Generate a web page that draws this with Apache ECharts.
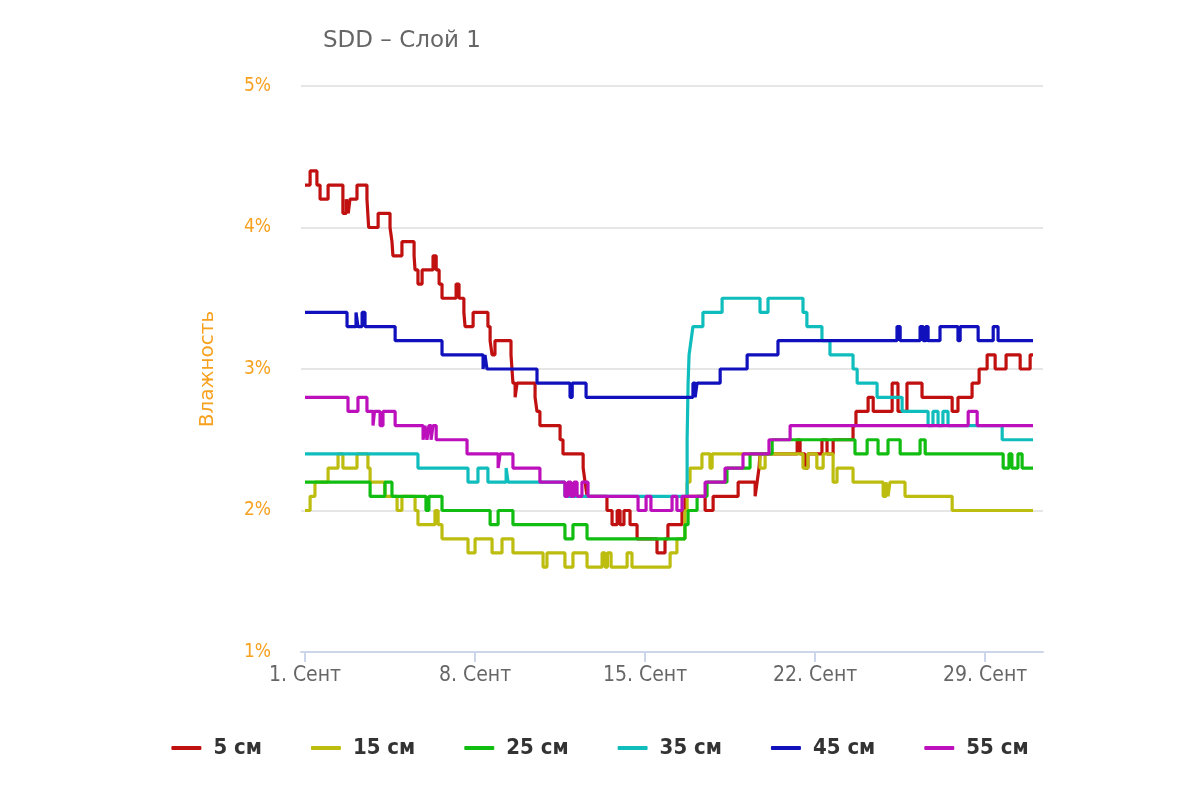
<!DOCTYPE html>
<html>
<head>
<meta charset="utf-8">
<title>SDD - Слой 1</title>
<script src="https://cdn.jsdelivr.net/npm/echarts@6/dist/echarts.min.js"></script>
<style>
  html, body { margin: 0; padding: 0; background: #fff; }
  #chart { width: 1200px; height: 800px; }
</style>
</head>
<body>
<div id="chart"></div>
<script>
// дни сентября (дробные) в моменты смены значения, и значения влажности, %
var days5 = [1.00, 1.21, 1.49, 1.62, 1.95, 2.56, 2.70, 2.78, 2.85, 3.14, 3.55, 3.62, 4.01, 4.50, 4.58, 4.62, 4.99, 5.49, 5.53, 5.65, 5.82, 6.27, 6.40, 6.52, 6.64, 7.22, 7.34, 7.54, 7.59, 7.92, 8.53, 8.62, 8.70, 8.82, 9.48, 9.52, 9.56, 9.65, 9.73, 10.47, 10.55, 10.67, 11.50, 11.62, 12.45, 12.53, 12.61, 13.43, 13.64, 13.85, 13.97, 14.13, 14.38, 14.67, 15.49, 15.82, 15.94, 16.52, 16.64, 17.47, 17.80, 18.83, 19.53, 19.61, 19.69, 19.73, 21.26, 21.38, 21.58, 21.70, 22.28, 22.49, 22.74, 23.56, 23.68, 24.18, 24.39, 25.17, 25.41, 25.78, 26.40, 27.64, 27.88, 28.46, 28.75, 29.08, 29.41, 29.86, 30.44, 30.85, 30.97];
var vals5 = [4.3, 4.4, 4.3, 4.2, 4.3, 4.1, 4.2, 4.1, 4.2, 4.3, 4.2, 4.0, 4.1, 4.0, 3.9, 3.8, 3.9, 3.8, 3.7, 3.6, 3.7, 3.8, 3.7, 3.6, 3.5, 3.6, 3.5, 3.4, 3.3, 3.4, 3.3, 3.2, 3.1, 3.2, 3.1, 3.0, 2.9, 2.8, 2.9, 2.8, 2.7, 2.6, 2.5, 2.4, 2.3, 2.2, 2.1, 2.0, 1.9, 2.0, 1.9, 2.0, 1.9, 1.8, 1.7, 1.8, 1.9, 2.0, 2.1, 2.0, 2.1, 2.2, 2.1, 2.2, 2.3, 2.4, 2.5, 2.4, 2.3, 2.4, 2.5, 2.4, 2.5, 2.6, 2.7, 2.8, 2.7, 2.9, 2.7, 2.9, 2.8, 2.7, 2.8, 2.9, 3.0, 3.1, 3.0, 3.1, 3.0, 3.1, 3.1];

var days15 = [1.00, 1.21, 1.41, 1.95, 2.36, 2.56, 3.14, 3.59, 3.68, 4.29, 4.79, 4.99, 5.53, 5.65, 6.35, 6.48, 6.64, 7.71, 8.00, 8.70, 9.11, 9.56, 10.80, 10.96, 11.70, 12.03, 12.61, 13.23, 13.35, 13.45, 13.60, 14.26, 14.46, 16.03, 16.31, 16.64, 16.73, 16.85, 17.34, 17.67, 17.76, 19.73, 19.94, 21.50, 21.70, 22.07, 22.33, 22.74, 22.90, 23.56, 24.80, 24.92, 25.00, 25.08, 25.70, 27.64, 30.97];
var vals15 = [2.0, 2.1, 2.2, 2.3, 2.4, 2.3, 2.4, 2.3, 2.2, 2.1, 2.0, 2.1, 2.0, 1.9, 2.0, 1.9, 1.8, 1.7, 1.8, 1.7, 1.8, 1.7, 1.6, 1.7, 1.6, 1.7, 1.6, 1.7, 1.6, 1.7, 1.6, 1.7, 1.6, 1.7, 1.8, 2.0, 2.2, 2.3, 2.4, 2.3, 2.4, 2.3, 2.4, 2.3, 2.4, 2.3, 2.4, 2.2, 2.3, 2.2, 2.1, 2.2, 2.1, 2.2, 2.1, 2.0, 2.0];

var days25 = [1.00, 3.68, 4.29, 4.58, 5.98, 6.10, 6.64, 8.62, 8.95, 9.56, 11.70, 12.03, 12.61, 16.64, 16.77, 17.14, 17.55, 18.37, 19.32, 20.23, 23.64, 24.14, 24.59, 25.00, 25.50, 26.32, 26.53, 29.74, 29.98, 30.10, 30.35, 30.52, 30.97];
var vals25 = [2.2, 2.1, 2.2, 2.1, 2.0, 2.1, 2.0, 1.9, 2.0, 1.9, 1.8, 1.9, 1.8, 1.9, 2.0, 2.1, 2.2, 2.3, 2.4, 2.5, 2.4, 2.5, 2.4, 2.5, 2.4, 2.5, 2.4, 2.3, 2.4, 2.3, 2.4, 2.3, 2.3];

var days35 = [1.00, 5.65, 7.71, 8.12, 8.53, 9.28, 9.36, 11.70, 16.73, 16.77, 16.81, 16.89, 16.97, 17.06, 17.38, 18.17, 19.73, 20.06, 21.50, 21.66, 22.28, 22.61, 23.56, 23.73, 24.55, 25.58, 26.65, 26.85, 27.06, 27.26, 27.47, 29.70, 30.97];
var vals35 = [2.4, 2.3, 2.2, 2.3, 2.2, 2.3, 2.2, 2.1, 2.5, 2.9, 3.1, 3.2, 3.3, 3.3, 3.4, 3.5, 3.4, 3.5, 3.4, 3.3, 3.2, 3.1, 3.0, 2.9, 2.8, 2.7, 2.6, 2.7, 2.6, 2.7, 2.6, 2.5, 2.5];

var days45 = [1.00, 2.73, 3.10, 3.18, 3.35, 3.47, 4.71, 6.64, 8.33, 8.41, 8.49, 10.55, 11.91, 12.00, 12.57, 16.97, 17.06, 17.14, 18.09, 19.20, 20.47, 25.37, 25.50, 26.32, 26.45, 26.55, 26.65, 27.14, 27.88, 27.97, 28.71, 29.33, 29.53, 30.97];
var vals45 = [3.4, 3.3, 3.4, 3.3, 3.4, 3.3, 3.2, 3.1, 3.0, 3.1, 3.0, 2.9, 2.8, 2.9, 2.8, 2.9, 2.8, 2.9, 3.0, 3.1, 3.2, 3.3, 3.2, 3.3, 3.2, 3.3, 3.2, 3.3, 3.2, 3.3, 3.2, 3.3, 3.2, 3.2];

var days55 = [1.00, 2.77, 3.18, 3.55, 3.80, 3.86, 4.09, 4.21, 4.71, 5.86, 5.94, 6.02, 6.10, 6.19, 6.27, 6.40, 7.67, 8.95, 9.03, 9.56, 10.67, 11.70, 11.82, 11.95, 12.07, 12.20, 12.40, 12.65, 14.71, 15.04, 15.24, 16.11, 16.31, 16.52, 17.47, 18.29, 19.03, 20.10, 20.97, 28.30, 28.67, 30.97];
var vals55 = [2.8, 2.7, 2.8, 2.7, 2.6, 2.7, 2.6, 2.7, 2.6, 2.5, 2.6, 2.5, 2.6, 2.5, 2.6, 2.5, 2.4, 2.3, 2.4, 2.3, 2.2, 2.1, 2.2, 2.1, 2.2, 2.1, 2.2, 2.1, 2.0, 2.1, 2.0, 2.1, 2.0, 2.1, 2.2, 2.3, 2.4, 2.5, 2.6, 2.7, 2.6, 2.6];

var seriesNames = ['5 см', '15 см', '25 см', '35 см', '45 см', '55 см'];
var seriesColors = ['#c01010', '#bdbd10', '#10bd10', '#10bdbd', '#1010bd', '#bd10bd'];
var dayTicks = [1, 8, 15, 22, 29];
var yTicks = [1, 2, 3, 4, 5];

var allDays = [days5, days15, days25, days35, days45, days55];
var allVals = [vals5, vals15, vals25, vals35, vals45, vals55];

function zip(d, v) {
  var out = [];
  for (var i = 0; i < d.length; i++) out.push([d[i], v[i]]);
  return out;
}

var chart = echarts.init(document.getElementById('chart'));

var series = seriesNames.map(function (name, i) {
  return {
    name: name,
    type: 'line',
    step: 'end',
    showSymbol: false,
    symbol: 'none',
    data: zip(allDays[i], allVals[i]),
    lineStyle: { width: 3.2, color: seriesColors[i] },
    itemStyle: { color: seriesColors[i] }
  };
});

var option = {
  animation: false,
  backgroundColor: '#fff',
  title: {
    text: 'SDD – Слой 1',
    left: 318,
    top: 25,
    textStyle: {
      fontFamily: 'DejaVu Sans',
      fontSize: 23,
      fontWeight: 'normal',
      color: '#666'
    }
  },
  legend: {
    data: seriesNames,
    left: 'center',
    top: 732,
    icon: 'roundRect',
    itemWidth: 30,
    itemHeight: 4,
    itemGap: 49,
    textStyle: {
      fontFamily: 'DejaVu Sans Condensed',
      fontSize: 22,
      fontWeight: 'bold',
      color: '#333',
      padding: [0, 0, 0, 7]
    }
  },
  grid: {
    left: 301,
    right: 157,
    top: 86,
    bottom: 148
  },
  xAxis: {
    type: 'value',
    min: 0.835,
    max: 31.38,
    splitLine: { show: false },
    axisLine: { lineStyle: { color: '#ccd6eb', width: 2 } },
    axisTick: {
      show: true,
      length: 10,
      customValues: dayTicks,
      lineStyle: { color: '#ccd6eb', width: 2 }
    },
    axisLabel: {
      customValues: dayTicks,
      margin: 13,
      fontFamily: 'DejaVu Sans Condensed',
      fontSize: 21,
      color: '#666',
      formatter: function (v) { return v + '. Сент'; }
    }
  },
  yAxis: {
    type: 'value',
    min: 1,
    max: 5,
    interval: 1,
    name: 'Влажность',
    nameLocation: 'middle',
    nameGap: 83,
    nameTextStyle: {
      fontFamily: 'DejaVu Sans',
      fontSize: 20,
      color: '#f7a11f'
    },
    axisLine: { show: false },
    axisTick: { show: false },
    splitLine: { lineStyle: { color: '#e6e6e6', width: 2 } },
    axisLabel: {
      margin: 30,
      fontFamily: 'DejaVu Sans Condensed',
      fontSize: 19,
      color: '#f7a11f',
      formatter: function (v) { return yTicks.indexOf(v) >= 0 ? v + '%' : ''; }
    }
  },
  series: series
};

chart.setOption(option);
</script>
</body>
</html>
